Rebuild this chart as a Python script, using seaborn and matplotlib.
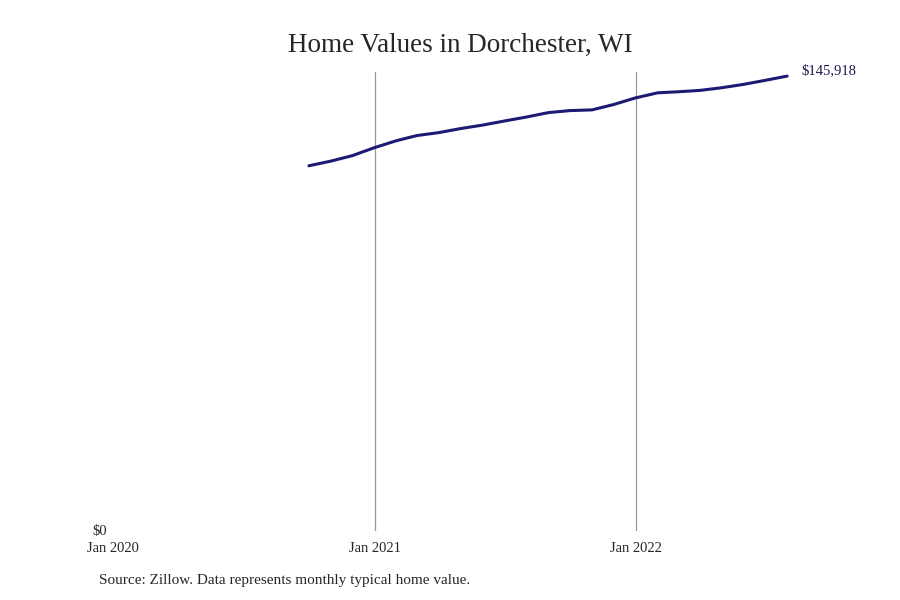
import pandas as pd
import matplotlib.pyplot as plt
import seaborn as sns

months = ['2020-10', '2020-11', '2020-12', '2021-01', '2021-02', '2021-03',
          '2021-04', '2021-05', '2021-06', '2021-07', '2021-08', '2021-09',
          '2021-10', '2021-11', '2021-12', '2022-01', '2022-02', '2022-03',
          '2022-04', '2022-05', '2022-06', '2022-07', '2022-08']
values = [117150, 118660, 120420, 122990, 125230, 126840, 127800, 129080,
          130200, 131490, 132770, 134210, 134850, 135080, 136780, 138930,
          140560, 140880, 141330, 142170, 143260, 144540, 145918]
tick_dates = ['2020-01', '2021-01', '2022-01']
tick_labels = ['Jan 2020', 'Jan 2021', 'Jan 2022']

df = pd.DataFrame({'date': pd.to_datetime(months), 'value': values})

sns.set_style('white')
plt.rcParams['font.family'] = ['Liberation Serif', 'DejaVu Serif']

fig = plt.figure(figsize=(9, 6), dpi=100)
ax = fig.add_axes([113 / 900, 1 - 531 / 600, (790 - 113) / 900, (531 - 72) / 600])

sns.lineplot(data=df, x='date', y='value', color='#1c1a72', linewidth=2.2, ax=ax)

ax.set_xlim(pd.Timestamp('2020-01-01'), pd.Timestamp('2022-08-05'))
ax.set_ylim(0, max(values) * 1.009)
ax.set_xticks(pd.to_datetime(tick_dates))
ax.set_xticklabels(tick_labels, fontsize=10.5)
ax.set_yticks([0])
ax.set_yticklabels(['$0'], fontsize=10.5)
ax.tick_params(axis='both', length=0)
ax.tick_params(axis='x', pad=8)
ax.tick_params(axis='y', pad=4)
for lbl in ax.get_yticklabels():
    lbl.set_verticalalignment('center')

ax.xaxis.grid(True, color='#999999', linewidth=0.9)
ax.get_xgridlines()[0].set_visible(False)
ax.yaxis.grid(False)
for s in ax.spines.values():
    s.set_visible(False)
ax.set_xlabel('')
ax.set_ylabel('')

last = df.iloc[-1]
ax.annotate(f"${last['value']:,.0f}", xy=(last['date'], last['value']),
            xytext=(10, 4), textcoords='offset points', fontsize=10.5,
            color='#1c1a50', va='center', ha='left', annotation_clip=False)

fig.text(0.512, 0.925, 'Home Values in Dorchester, WI', ha='center', va='center',
         fontsize=19.5)
fig.text(0.11, 0.033, 'Source: Zillow. Data represents monthly typical home value.',
         ha='left', va='center', fontsize=11)

fig.savefig('out.png', dpi=100)
